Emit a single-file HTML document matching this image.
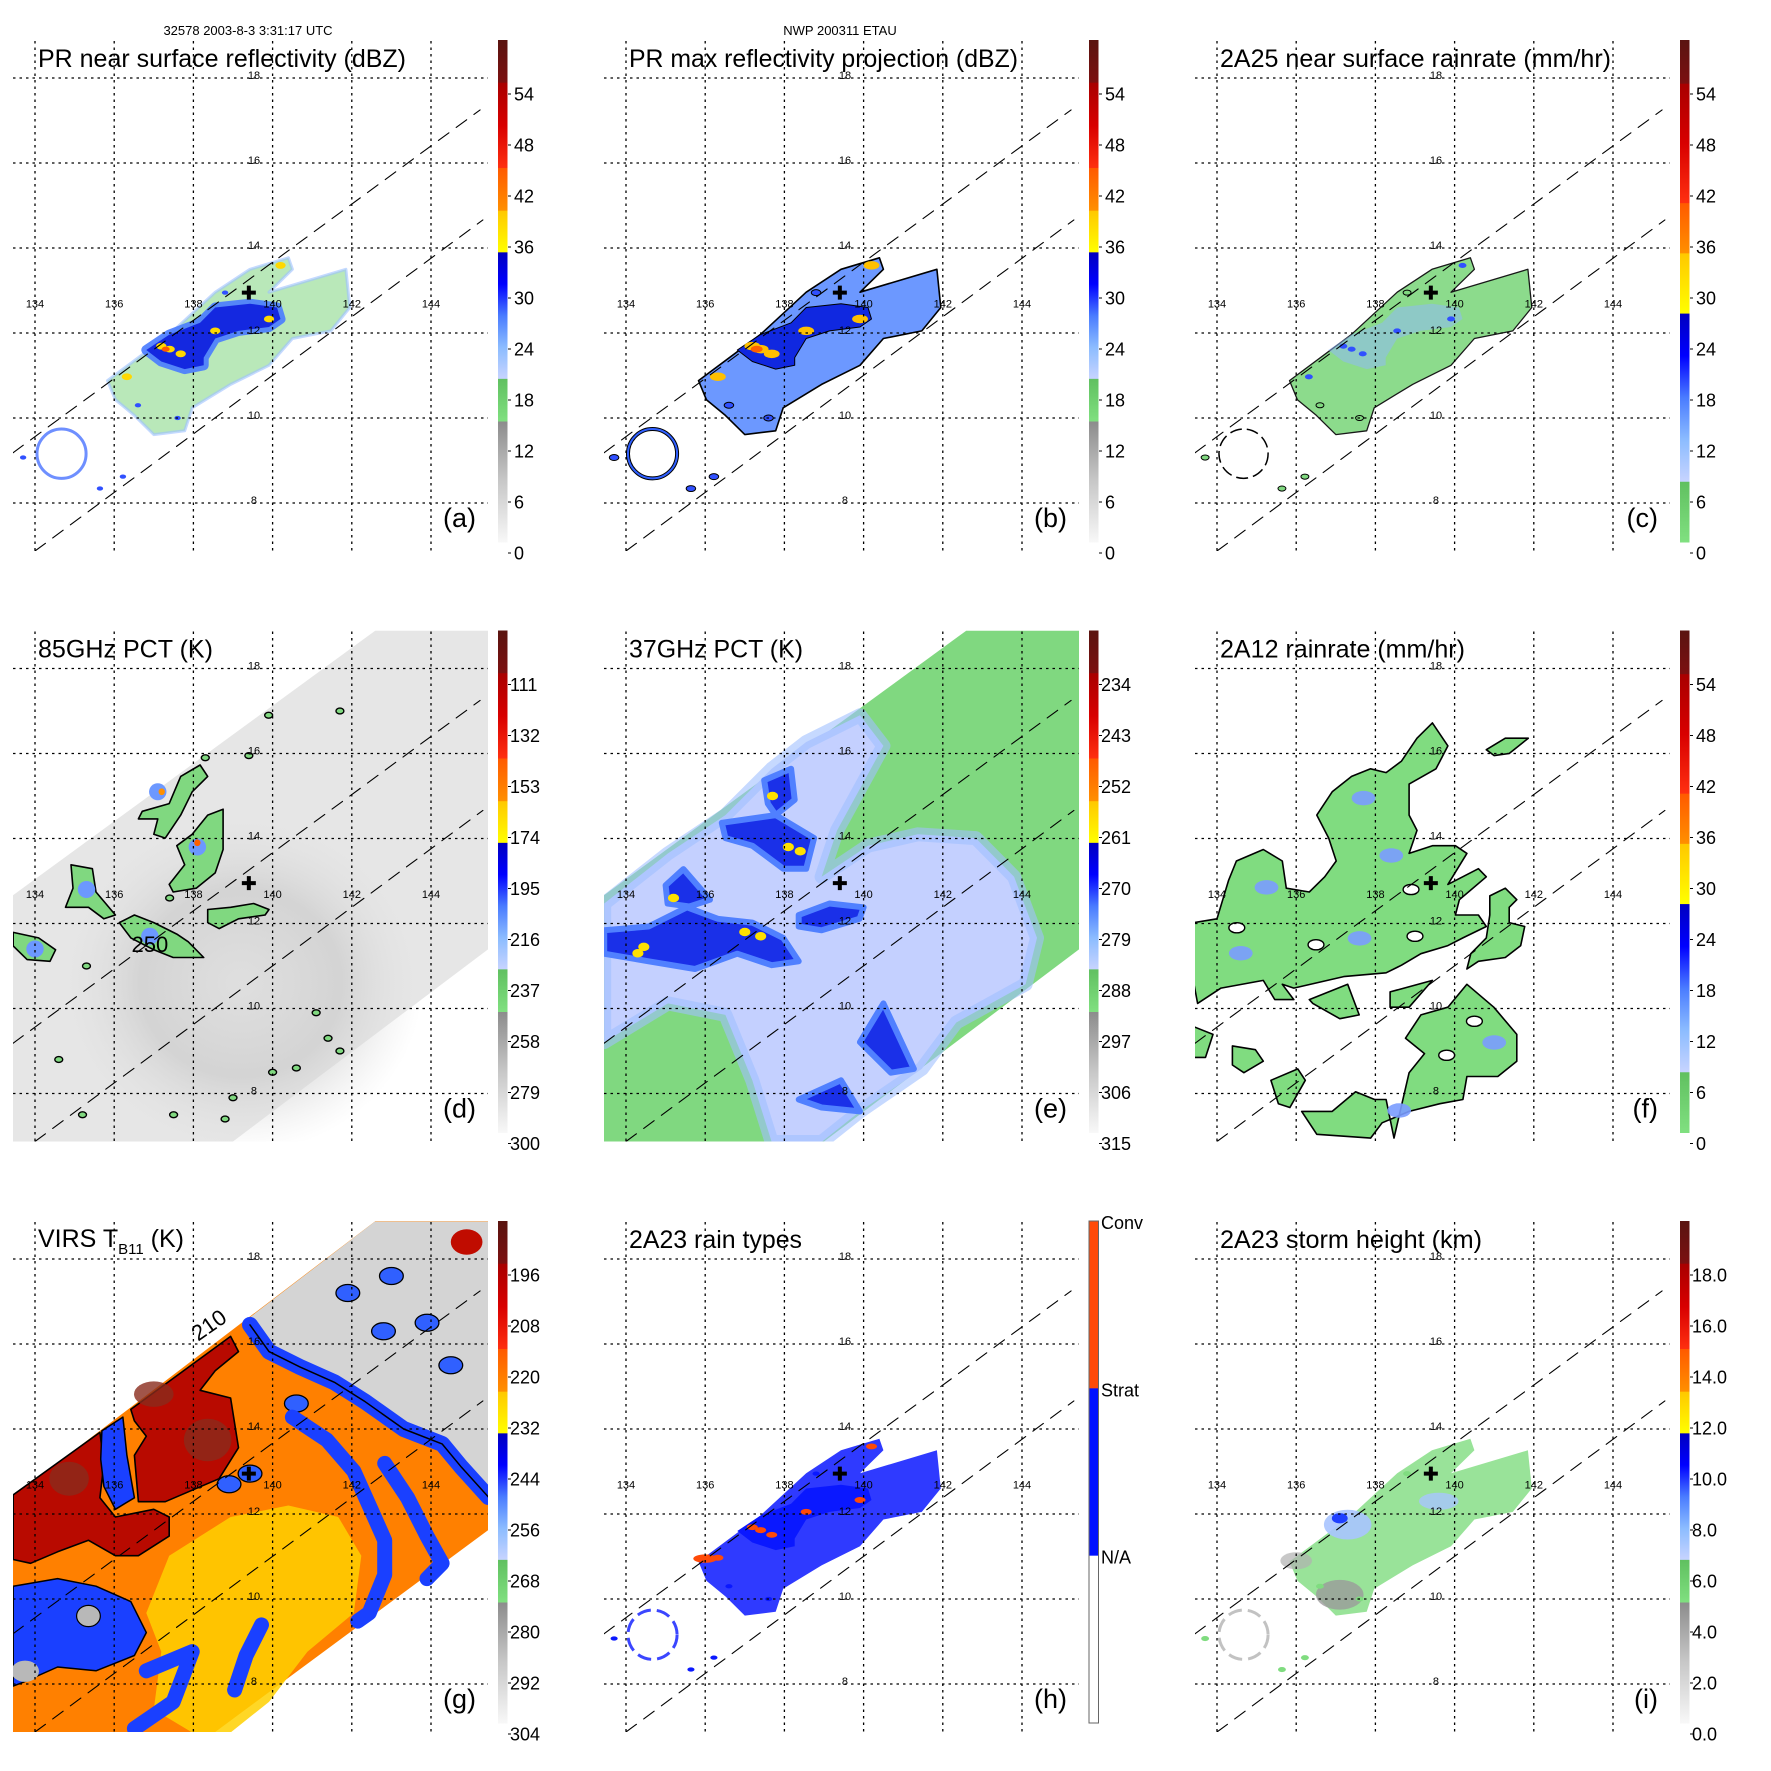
<!DOCTYPE html>
<html><head><meta charset="utf-8"><style>html,body{margin:0;padding:0;background:#fff}svg{display:block;font-family:"Liberation Sans",Arial,sans-serif}</style></head>
<body>
<svg id="fig" xmlns="http://www.w3.org/2000/svg" width="1771" height="1771" viewBox="0 0 1771 1771">
<rect x="0" y="0" width="1771" height="1771" fill="#fff"/>
<text x="248" y="35" font-size="13" text-anchor="middle">32578 2003-8-3 3:31:17 UTC</text>
<text x="840" y="35" font-size="13" text-anchor="middle">NWP 200311 ETAU</text>
<defs id="defs"></defs>
</svg>
<script>
const NS='http://www.w3.org/2000/svg';
const svg=document.getElementById('fig');
const defs=document.getElementById('defs');

/* ---------- axis data ---------- */
const lonTicks=[134,136,138,140,142,144];
const latTicks=[18,16,14,12,10,8];
const lonLabelLat=12.7;
const latLabelLon=139.53;
const center=[139.4,12.95];
const swathUpper=[[133.44,9.18],[145.24,17.25]];
const swathLower=[[134.0,6.87],[145.31,14.66]];
const tmiSwath=[[133.44,12.66],[142.59,18.89],[145.44,18.89],[145.44,11.39],[139.0,6.87],[133.44,6.87]];
const virsSwath=[[133.44,12.40],[142.59,18.89],[145.44,18.89],[145.44,11.62],[138.55,6.87],[133.44,6.87]];

/* ---------- colorbar tick labels ---------- */
const ticksDbz=['54','48','42','36','30','24','18','12','6','0'];
const ticks85=['111','132','153','174','195','216','237','258','279','300'];
const ticks37=['234','243','252','261','270','279','288','297','306','315'];
const ticksVirs=['196','208','220','232','244','256','268','280','292','304'];
const ticksHgt=['18.0','16.0','14.0','12.0','10.0','8.0','6.0','4.0','2.0','0.0'];
const ticksType=['Conv','Strat','N/A'];

/* ---------- PR data regions (lon,lat) ---------- */
const prEnv=[[135.83,10.88],[137.39,11.96],[138.55,12.96],[139.43,13.5],[140.4,13.77],[140.5,13.5],[139.91,12.96],[141.85,13.5],[141.95,12.6],[141.47,12.05],[140.5,11.87],[139.91,11.24],[138.94,10.79],[137.97,10.24],[137.78,9.7],[137.0,9.61],[136.51,10.06],[136.03,10.43]];
const prCore=[[136.81,11.6],[137.39,11.96],[138.17,12.24],[138.55,12.6],[139.43,12.69],[140.11,12.6],[140.2,12.33],[139.91,12.14],[139.14,12.05],[138.55,11.87],[138.26,11.42],[138.26,11.24],[137.78,11.15],[137.19,11.33]];
const prSpots=[[137.19,11.69],[137.68,11.51],[138.55,12.05],[139.91,12.33],[140.2,13.59],[136.32,10.97],[137.4,11.62]];
const prRing=[134.67,9.16,0.62,0.58];
const prBits=[[135.64,8.34],[136.22,8.62],[133.7,9.07],[138.8,12.95],[136.6,10.3],[137.6,10.0]];

/* ---------- 85 GHz blobs ---------- */
const d85=[
 [[134.91,13.38],[135.45,13.29],[135.54,12.74],[136.03,12.2],[135.74,12.11],[135.35,12.38],[134.77,12.38],[134.96,12.83]],
 [[137.39,12.92],[137.78,13.38],[137.58,13.83],[137.97,14.1],[138.36,14.55],[138.75,14.69],[138.75,13.74],[138.55,13.19],[138.07,12.83],[137.49,12.74]],
 [[136.71,14.64],[137.39,14.82],[137.68,15.46],[138.17,15.73],[138.36,15.46],[137.97,15.1],[137.68,14.55],[137.29,14.01],[137.0,14.1],[137.1,14.46],[136.61,14.46]],
 [[136.13,12.02],[136.51,12.2],[137.0,12.02],[137.58,11.75],[137.87,11.57],[138.26,11.2],[137.49,11.2],[137.0,11.38],[136.42,11.66]],
 [[133.45,11.79],[134.09,11.66],[134.52,11.38],[134.38,11.11],[133.8,11.15],[133.45,11.47]],
 [[138.36,12.33],[138.94,12.38],[139.52,12.47],[139.91,12.33],[139.81,12.2],[139.14,12.11],[138.65,11.88],[138.36,12.02]]];
const d85Small=[[139.4,15.95],[139.9,16.9],[138.3,15.9],[141.7,17.0],[137.4,12.6],[141.1,9.9],[141.4,9.3],[140.6,8.6],[140.0,8.5],[139.0,7.9],[138.8,7.4],[137.5,7.5],[135.2,7.5],[134.6,8.8],[135.3,11.0],[141.7,9.0]];
const d85Blue=[[135.3,12.8],[137.1,15.1],[138.1,13.8],[136.9,11.7],[134.0,11.4]];

/* ---------- 37 GHz regions ---------- */
const e37Light=[[133.45,12.47],[135.06,13.65],[136.51,14.55],[137.68,15.64],[138.55,16.27],[139.91,16.9],[140.5,16.18],[139.33,14.19],[138.94,13.1],[140.11,13.83],[141.37,14.1],[142.83,14.01],[143.8,13.1],[144.38,11.66],[144.09,10.57],[142.34,9.67],[141.47,8.58],[139.91,7.58],[138.94,6.86],[137.68,6.86],[137.19,8.31],[136.51,9.85],[135.06,10.12],[133.45,9.21]];
const e37Blue=[
 [[133.45,11.84],[134.57,11.93],[135.54,12.38],[136.32,12.11],[137.19,12.02],[137.97,11.66],[138.36,11.11],[137.68,11.02],[136.81,11.29],[135.74,10.93],[134.57,11.11],[133.45,11.29]],
 [[135.0,12.9],[135.45,13.28],[136.12,12.56],[135.6,12.4],[135.05,12.47]],
 [[136.42,14.37],[137.78,14.55],[138.75,14.01],[138.55,13.29],[137.97,13.29],[137.19,13.83],[136.51,14.01]],
 [[138.36,12.2],[139.14,12.47],[140.0,12.38],[139.9,12.11],[138.94,11.84],[138.36,11.93]],
 [[137.49,15.37],[138.17,15.64],[138.26,14.91],[137.78,14.55],[137.58,14.82]],
 [[139.91,9.21],[140.5,10.12],[141.27,8.58],[140.69,8.49]],
 [[138.36,7.86],[139.43,8.31],[139.91,7.58],[138.94,7.67]]];
const e37Yellow=[[137.0,11.8],[137.4,11.7],[138.1,13.8],[138.4,13.7],[135.2,12.6],[134.3,11.3],[134.45,11.45],[137.7,15.0]];

/* ---------- 2A12 regions ---------- */
const f12=[
 [[133.42,12.02],[134.0,12.11],[134.29,13.01],[134.49,13.47],[135.17,13.74],[135.65,13.47],[135.75,12.83],[136.33,12.74],[136.72,13.1],[137.01,13.47],[136.82,14.01],[136.52,14.55],[136.91,15.1],[137.4,15.46],[137.88,15.64],[138.27,15.55],[138.66,15.82],[139.05,16.36],[139.44,16.72],[139.83,16.18],[139.53,15.64],[138.85,15.28],[138.85,14.55],[139.05,14.19],[138.85,13.65],[139.44,13.83],[140.02,13.83],[140.31,13.65],[139.83,12.92],[140.6,13.29],[140.8,13.1],[140.12,12.56],[140.02,12.2],[140.6,12.2],[140.8,11.93],[140.21,11.66],[139.83,11.48],[139.15,11.29],[138.66,11.02],[138.27,10.84],[137.2,10.75],[135.94,10.48],[135.65,10.57],[135.94,10.21],[135.46,10.21],[135.17,10.66],[134.1,10.48],[133.51,10.12],[133.42,10.57]],
 [[138.47,6.95],[138.85,8.49],[139.24,8.94],[138.76,9.3],[139.15,9.85],[139.83,10.03],[140.31,10.57],[140.99,10.03],[141.57,9.39],[141.57,8.76],[141.09,8.4],[140.31,8.4],[140.21,7.86],[139.63,7.76],[138.85,7.58],[138.17,7.31],[137.88,6.95],[136.52,7.04],[136.14,7.58],[136.91,7.58],[137.5,8.04],[137.98,7.86],[138.27,7.86]],
 [[140.89,12.65],[141.28,12.83],[141.57,12.56],[141.38,12.38],[141.38,12.02],[141.77,11.93],[141.67,11.48],[141.28,11.2],[140.6,11.11],[140.31,10.93],[140.41,11.29],[140.8,11.66],[140.89,12.2]],
 [[136.33,10.21],[137.3,10.57],[137.59,9.85],[137.1,9.76],[136.42,10.12]],
 [[138.37,10.39],[139.44,10.66],[138.85,10.03],[138.37,10.03]],
 [[133.42,9.57],[133.9,9.39],[133.71,8.85],[133.42,8.85]],
 [[134.39,9.12],[134.97,9.03],[135.17,8.76],[134.68,8.49],[134.39,8.67]],
 [[135.36,8.31],[136.04,8.58],[136.23,8.31],[135.84,7.67],[135.55,7.76]],
 [[140.8,16.09],[141.28,16.36],[141.86,16.36],[141.38,16.0],[141.0,15.95]]];
const f12Blue=[[137.6,11.65],[138.4,13.6],[135.25,12.85],[134.6,11.3],[137.7,14.95],[141.0,9.2],[138.6,7.6]];
const f12Holes=[[134.5,11.9],[136.5,11.5],[138.9,12.8],[139.0,11.7],[140.5,9.7],[139.8,8.9]];

/* ---------- VIRS regions ---------- */
const gGray=[[141.17,17.87],[142.58,18.88],[145.45,18.88],[145.45,12.47],[144.77,13.19],[144.28,13.74],[143.31,14.1],[142.34,14.73],[141.56,15.19],[140.69,15.55],[139.91,15.91],[139.43,16.63]];
const gRim=[[139.43,16.45],[139.91,15.82],[140.69,15.46],[141.56,15.1],[142.34,14.64],[143.31,14.0],[144.28,13.65],[144.77,13.1],[145.45,12.4]];
const gRedA=[[133.45,12.45],[135.64,13.92],[135.74,13.19],[135.64,12.38],[136.03,11.93],[137.0,12.11],[137.39,11.93],[137.39,11.48],[136.61,11.02],[136.03,11.02],[135.35,11.38],[134.57,11.11],[133.89,10.84],[133.45,10.93]];
const gRedB=[[136.42,14.46],[138.94,16.18],[139.14,15.82],[138.55,15.37],[138.17,14.91],[138.94,14.73],[139.14,13.56],[138.65,12.83],[137.97,12.56],[137.29,12.29],[136.61,12.29],[136.51,13.38],[136.81,13.83],[136.51,14.19]];
const gDark=[[138.36,13.74,0.6,0.5],[134.86,12.83,0.5,0.4],[137.0,14.82,0.5,0.3]];
const gBlueArm=[[135.69,13.96],[136.22,14.28],[136.32,13.38],[136.51,12.38],[136.03,12.11],[135.74,12.65],[135.66,13.29]];
const gBlueLL=[[133.45,10.3],[134.57,10.48],[135.54,10.3],[136.42,9.94],[136.81,9.21],[136.51,8.67],[135.54,8.31],[134.57,8.4],[133.7,8.04],[133.45,7.95]];
const gBands=[
 [[140.5,14.28],[141.37,13.74],[142.05,13.01],[142.44,12.2],[142.83,11.38],[142.83,10.57],[142.44,9.67],[142.15,9.48]],
 [[142.83,13.19],[143.41,12.38],[143.9,11.48],[144.28,10.84],[143.9,10.48]],
 [[139.72,9.39],[139.33,8.67],[139.04,7.86]],
 [[136.81,8.31],[137.97,8.76],[137.49,7.58],[136.51,6.95]]];
const gYellow=[[137.39,11.02],[138.94,11.93],[140.4,12.2],[141.66,11.93],[142.24,11.02],[142.05,9.67],[140.88,8.76],[139.91,7.58],[138.94,6.86],[137.97,6.86],[137.0,7.4],[137.19,8.76],[136.81,9.67]];
const gBlueSpots=[[139.43,12.95],[138.9,12.7],[141.9,17.2],[143.0,17.6],[143.9,16.5],[142.8,16.3],[144.5,15.5],[140.6,14.6]];

/* ---------- helpers ---------- */
const X=lon=>35+(lon-134)*39.6;
const Y=lat=>78+(18-lat)*42.5;
const pts=a=>a.map(p=>X(p[0]).toFixed(1)+','+Y(p[1]).toFixed(1)).join(' ');
function mk(tag,attrs,parent){const e=document.createElementNS(NS,tag);for(const k in attrs)e.setAttribute(k,attrs[k]);parent.appendChild(e);return e;}
function poly(g,a,fill,stroke,sw,op,name){
 const e=mk('polygon',{points:pts(a),fill:fill,stroke:stroke||'none','stroke-width':sw||0,opacity:op==null?1:op,'stroke-linejoin':'round'},g);
 
 
 return e;}
function line(g,a,stroke,sw,op,name,dash){
 const e=mk('polyline',{points:pts(a),fill:'none',stroke:stroke,'stroke-width':sw,opacity:op==null?1:op,'stroke-linecap':'round','stroke-linejoin':'round'},g);
 if(dash)e.setAttribute('stroke-dasharray',dash);
 
 
 return e;}
function ell(g,lon,lat,rl,ra,fill,stroke,sw,op,name){
 const e=mk('ellipse',{cx:X(lon),cy:Y(lat),rx:rl*39.6,ry:ra*42.5,fill:fill,stroke:stroke||'none','stroke-width':sw||0,opacity:op==null?1:op},g);
 
 
 return e;}
function txt(g,x,y,s,size,anchor,name){
 const e=mk('text',{x:x,y:y,'font-size':size,'text-anchor':anchor||'start',fill:'#000'},g);
 e.textContent=s;
 
 
 return e;}

let gid=0;
function grad(stops){const id='gr'+(gid++);const lg=mk('linearGradient',{id:id,x1:0,y1:0,x2:0,y2:1},defs);
 stops.forEach((s,i)=>mk('stop',{offset:(i/(stops.length-1)),'stop-color':s},lg));return 'url(#'+id+')';}
const rg=mk('radialGradient',{id:'dark85',cx:0.5,cy:0.5,r:0.5},defs);
mk('stop',{offset:0,'stop-color':'#dadada','stop-opacity':0.6},rg);mk('stop',{offset:0.55,'stop-color':'#cfcfcf','stop-opacity':0.8},rg);mk('stop',{offset:1,'stop-color':'#e4e4e4','stop-opacity':0},rg);
const clip=mk('clipPath',{id:'plotclip'},defs);mk('rect',{x:13,y:40,width:475,height:511},clip);

const cbStd=[[0,.085,['#5a1410','#7c1010']],[.085,.255,['#a80000','#d80000','#ff3010']],[.255,.34,['#ff5a00','#ff9000']],[.34,.423,['#ffc800','#ffff00']],[.423,.675,['#0000c0','#0000ff','#4a7cff','#8cbcff','#c8d4ff']],[.675,.76,['#60c060','#80e080']],[.76,1,['#8c8c8c','#c8c8c8','#f8f8f8']]];
const cbRain=[[0,.087,['#5a1410','#7c1010']],[.087,.325,['#a80000','#d80000','#ff3010']],[.325,.425,['#ff5a00','#ff9000']],[.425,.545,['#ffc800','#ffff00']],[.545,.88,['#0000c0','#0000ff','#4a7cff','#8cbcff','#c8d4ff']],[.88,1,['#60c060','#80e080']]];
const cbType=[[0,1/3,['#ff4a08','#ff4a08']],[1/3,2/3,['#0010ff','#0010ff']],[2/3,1,['#ffffff','#ffffff']]];

function prLayers(g,kind){
 if(kind==='a'){
  poly(g,prEnv,'#7fd67f','none',0,.55,'green-echo-area');
  poly(g,prEnv,'none','#9cc0ff',3,.6,'light-echo-edge');
  poly(g,prCore,'#8cb8ff','#4a7cff',10,.9,'moderate-echo');
  poly(g,prCore,'#1428e0','none',0,1,'strong-echo-core');
  prSpots.forEach(p=>ell(g,p[0],p[1],.13,.08,'#ffd800','none',0,1,'intense-cell'));
  ell(g,137.3,11.62,.1,.06,'#ff5a00','none',0,1,'intense-cell-core');
  ell(g,prRing[0],prRing[1],prRing[2],prRing[3],'none','#3060ff',3,.7,'eyewall-ring','');
  prBits.forEach(p=>ell(g,p[0],p[1],.08,.05,'#3050ff','none',0,1,'echo-bit'));
 } else if(kind==='b'){
  poly(g,prEnv,'#6c98ff','#000',1.6,1,'max-echo-area');
  poly(g,prCore,'#1028e0','#000',1,1,'strong-max-echo');
  prSpots.forEach(p=>ell(g,p[0],p[1],.2,.1,'#ffc000','none',0,1,'intense-cell'));
  ell(g,137.3,11.62,.15,.08,'#ff6000','none',0,1,'intense-cell-core');
  ell(g,prRing[0],prRing[1],prRing[2],prRing[3],'none','#000',4,1,'eyewall-ring-contour');
  ell(g,prRing[0],prRing[1],prRing[2],prRing[3],'none','#3060ff',2,1,'eyewall-ring');
  prBits.forEach(p=>ell(g,p[0],p[1],.12,.07,'#3050ff','#000',1,1,'echo-bit'));
 } else if(kind==='c'){
  poly(g,prEnv,'#80d880','#000',1.3,.9,'rain-area');
  poly(g,prCore,'#90b8ff','none',0,.5,'moderate-rain');
  prSpots.forEach(p=>ell(g,p[0],p[1],.1,.06,'#3050ff','none',0,1,'heavy-rain-cell'));
  ell(g,prRing[0],prRing[1],prRing[2],prRing[3],'none','#000',1.5,1,'eyewall-ring-contour').setAttribute('stroke-dasharray','12,5');
  prBits.forEach(p=>ell(g,p[0],p[1],.1,.06,'#80d880','#000',1,1,'rain-bit'));
 } else if(kind==='h'){
  poly(g,prEnv,'#0a18ff','none',0,.85,'stratiform-area');
  poly(g,prCore,'#0a18ff','none',0,1,'stratiform-core');
  prSpots.forEach(p=>ell(g,p[0],p[1],.14,.07,'#ff4a08','none',0,1,'convective-cell'));
  ell(g,136.0,10.95,.3,.1,'#ff4a08','none',0,1,'convective-cell');
  ell(g,prRing[0],prRing[1],prRing[2],prRing[3],'none','#0a18ff',3,.8,'eyewall-ring').setAttribute('stroke-dasharray','14,6');
  prBits.forEach(p=>ell(g,p[0],p[1],.09,.05,'#0a18ff','none',0,1,'rain-bit'));
 } else if(kind==='i'){
  poly(g,prEnv,'#80dc80','none',0,.8,'storm-height-area');
  ell(g,137.1,10.1,.6,.35,'#9a9a9a','none',0,.8,'low-height-area');
  ell(g,136.0,10.9,.4,.2,'#b0b0b0','none',0,.7,'low-height-area');
  ell(g,137.3,11.75,.6,.35,'#a8c4ff','none',0,.9,'high-height-area');
  ell(g,137.1,11.9,.2,.12,'#2040ff','none',0,1,'highest-height-cell');
  ell(g,139.6,12.3,.5,.2,'#a8c4ff','none',0,.8,'high-height-area');
  ell(g,prRing[0],prRing[1],prRing[2],prRing[3],'none','#9a9a9a',3,.6,'eyewall-ring').setAttribute('stroke-dasharray','14,6');
  prBits.forEach(p=>ell(g,p[0],p[1],.1,.06,'#80dc80','none',0,1,'height-bit'));
 }
}
function d85Layers(g){
 poly(g,tmiSwath,'#e6e6e6','none',0,1,'tmi-swath');
 ell(g,139.2,10.6,4.6,4.0,'url(#dark85)','none',0,1,'scattering-depression');
 d85.forEach(b=>poly(g,b,'#80d880','#000',1.6,1,'cold-pct-region'));
 d85Blue.forEach(p=>ell(g,p[0],p[1],.22,.2,'#6c98ff','none',0,1,'very-cold-pct'));
 ell(g,138.1,13.9,.08,.08,'#ff6000','none',0,1,'coldest-pct');
 ell(g,137.2,15.1,.08,.08,'#ff9000','none',0,1,'coldest-pct');
 d85Small.forEach(p=>ell(g,p[0],p[1],.1,.07,'#80d880','#000',1.4,1,'small-cold-cell'));
 txt(g,X(136.9),Y(11.52)+8,'250',22,'middle','contour-label-250');
}
function e37Layers(g){
 poly(g,tmiSwath,'#80d880','none',0,1,'tmi-swath');
 poly(g,e37Light,'#c4d0ff','none',0,1,'warm-emission-area');
 poly(g,e37Light,'none','#a0c0ff',14,.6,'emission-edge');
 e37Blue.forEach(b=>poly(g,b,'#1a30e8','#5080ff',6,1,'rain-emission-band'));
 e37Yellow.forEach(p=>ell(g,p[0],p[1],.14,.1,'#ffe000','none',0,1,'strong-emission'));
}
function f12Layers(g){
 f12.forEach(b=>poly(g,b,'#80dc80','#000',1.6,1,'rain-region'));
 f12Blue.forEach(p=>ell(g,p[0],p[1],.3,.17,'#7a9cff','none',0,.9,'heavy-rain'));
 f12Holes.forEach(p=>ell(g,p[0],p[1],.2,.12,'#fff','#000',1.4,1,'rain-hole'));
}
function gLayers(g){
 poly(g,virsSwath,'#ff8000','none',0,1,'virs-swath');
 poly(g,gYellow,'#ffd000','none',0,.85,'warmer-cloud');
 poly(g,gGray,'#d4d4d4','none',0,1,'clear-sky');
 line(g,gRim,'#1a40ff',16,1,'cloud-edge-band');
 line(g,gRim,'#000',1.5,1,'cloud-edge-contour');
 gBlueSpots.forEach(p=>ell(g,p[0],p[1],.3,.2,'#3060ff','#000',1.3,1,'low-cloud'));
 poly(g,gRedA,'#b80a00','#000',1.6,1,'cold-cloud-top');
 poly(g,gRedB,'#b80a00','#000',1.6,1,'cold-cloud-top');
 gDark.forEach(p=>ell(g,p[0],p[1],p[2],p[3],'#8a2a1c','none',0,.8,'coldest-cloud-top'));
 poly(g,gBlueArm,'#1a40ff','#000',1.5,1,'warm-cloud-arm');
 poly(g,gBlueLL,'#1a40ff','#000',1.5,1,'warm-cloud-area');
 ell(g,135.35,9.6,.3,.25,'#b8b8b8','#000',1.2,1,'clear-patch');
 ell(g,133.75,8.3,.35,.25,'#b8b8b8','none',0,1,'clear-patch');
 gBands.forEach(b=>line(g,b,'#1a40ff',15,1,'rainband'));
 ell(g,144.9,18.4,.4,.3,'#c00c00','none',0,1,'cold-cell');
 txt(g,X(138.5),Y(16.3),'210',22,'middle','contour-label-210').setAttribute('transform','rotate(-35 '+X(138.5)+' '+Y(16.3)+')');
}

const panels=[
 {id:'a',col:0,row:0,title:'PR near surface reflectivity (dBZ)',tl:368,ticks:ticksDbz,cb:cbStd,paint:g=>prLayers(g,'a')},
 {id:'b',col:1,row:0,title:'PR max reflectivity projection (dBZ)',tl:389,ticks:ticksDbz,cb:cbStd,paint:g=>prLayers(g,'b')},
 {id:'c',col:2,row:0,title:'2A25 near surface rainrate (mm/hr)',tl:391,ticks:ticksDbz,cb:cbRain,paint:g=>prLayers(g,'c')},
 {id:'d',col:0,row:1,title:'85GHz PCT (K)',tl:175,ticks:ticks85,cb:cbStd,paint:d85Layers},
 {id:'e',col:1,row:1,title:'37GHz PCT (K)',tl:174,ticks:ticks37,cb:cbStd,paint:e37Layers},
 {id:'f',col:2,row:1,title:'2A12 rainrate (mm/hr)',tl:245,ticks:ticksDbz,cb:cbRain,paint:f12Layers},
 {id:'g',col:0,row:2,title:'VIRS',tl:0,ticks:ticksVirs,cb:cbStd,paint:gLayers},
 {id:'h',col:1,row:2,title:'2A23 rain types',tl:173,ticks:ticksType,cb:cbType,paint:g=>prLayers(g,'h')},
 {id:'i',col:2,row:2,title:'2A23 storm height (km)',tl:262,ticks:ticksHgt,cb:cbStd,paint:g=>prLayers(g,'i')}
];

panels.forEach(p=>{
 const g=mk('g',{transform:'translate('+(p.col*591)+','+(p.row*590.5)+')'},svg);
 
 
 const data=mk('g',{'clip-path':'url(#plotclip)'},g);
 
 
 p.paint(data);
 const grid=mk('g',{stroke:'#000','stroke-width':1.3,'stroke-dasharray':'2.5,4',fill:'none'},g);
 
 
 lonTicks.forEach(l=>{const e=mk('line',{x1:X(l),x2:X(l),y1:41,y2:551},grid);
  
  });
 latTicks.forEach(l=>{const e=mk('line',{x1:13,x2:488,y1:Y(l),y2:Y(l)},grid);
  
  });
 const sw=mk('g',{'clip-path':'url(#plotclip)'},g);
 
 
 line(sw,swathUpper,'#000',1.1,1,'pr-swath-upper-edge','13,9');
 line(sw,swathLower,'#000',1.1,1,'pr-swath-lower-edge','13,9');
 lonTicks.forEach(l=>txt(g,X(l),Y(lonLabelLat)+4,String(l),11,'middle','lon-label-'+l));
 latTicks.forEach(l=>txt(g,X(latLabelLon),Y(l)+1,String(l),11,'middle','lat-label-'+l));
 const cx=X(center[0]),cy=Y(center[1]);
 const c1=mk('rect',{x:cx-7,y:cy-2,width:14,height:4,fill:'#000'},g);
 
 
 const c2=mk('rect',{x:cx-2,y:cy-7,width:4,height:14,fill:'#000'},g);
 
 
 if(p.id==='g'){
  const t=mk('text',{x:38,y:66,'font-size':25},g);
  
  
  const a=mk('tspan',{},t);a.textContent='VIRS T';
  const b=mk('tspan',{'font-size':15,dy:7},t);b.textContent='B11';
  const c=mk('tspan',{dy:-7},t);c.textContent=' (K)';
 } else {
  const t=txt(g,38,67,p.title,25,'start','panel-title');
  t.setAttribute('textLength',p.tl);
  t.setAttribute('lengthAdjust','spacingAndGlyphs');
 }
 txt(g,476,527,'('+p.id+')',27,'end','panel-letter');
 const cb=mk('g',{},g);
 
 
 const top=40,h=502;
 p.cb.forEach(s=>{const r=mk('rect',{x:498,y:top+s[0]*h,width:9.5,height:(s[1]-s[0])*h+.5,fill:grad(s[2])},cb);
  
  });
 if(p.id==='h'){
  const o=mk('rect',{x:498,y:top,width:9.5,height:h,fill:'none',stroke:'#666','stroke-width':1},cb);
  
  
  p.ticks.forEach((s,i)=>txt(cb,510,top+i*h/3+8,s,18,'start','colorbar-label'));
 } else {
  const lx=p.ticks[0].length>2?510:514;
  p.ticks.forEach((s,i)=>{
   const y=94+i*51;
   const tk=mk('line',{x1:508,x2:511,y1:y,y2:y,stroke:'#000','stroke-width':1},cb);
   
   
   txt(cb,lx,y+6.5,s,18,'start','colorbar-label');
  });
 }
});
</script>
</body></html>
